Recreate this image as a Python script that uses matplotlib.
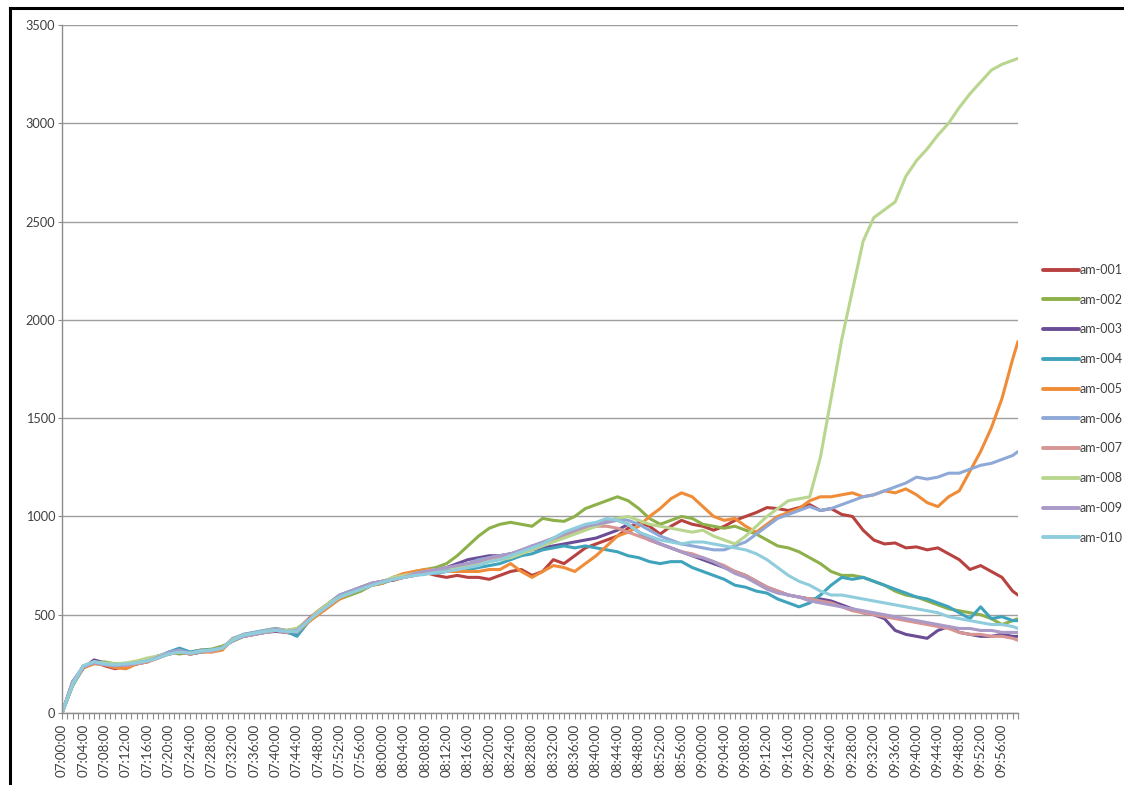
import matplotlib
matplotlib.use("Agg")
import matplotlib.pyplot as plt
from matplotlib.lines import Line2D

plt.rcParams['font.family'] = ['Lato', 'DejaVu Sans']

# minutes after 07:00 (sampled every two minutes, last reading at 09:59)
minutes = list(range(0, 179, 2)) + [179]

am_001 = [0, 160, 230, 265, 240, 225, 240, 250, 265, 290, 300, 320, 300, 310, 315, 325, 375, 395, 405, 410,
          425, 410, 420, 475, 520, 560, 600, 620, 640, 660, 670, 675, 690, 700, 715, 700, 690,
          700, 690, 690, 680, 700, 720, 730, 700, 720, 780, 760, 800, 840, 860, 880, 900, 940, 970, 950, 910,
          950, 980, 960, 950, 930, 950, 980, 1000, 1020, 1045, 1040, 1030, 1045, 1060, 1030, 1040, 1010, 1000,
          930, 880, 860, 865, 840, 845, 830, 840, 810, 780, 730, 750, 720, 690, 620, 600]
am_002 = [0, 140, 240, 255, 260, 250, 250, 260, 275, 280, 310, 300, 310, 320, 325, 340, 365, 390, 400, 420,
          430, 420, 430, 470, 510, 550, 580, 600, 620, 650, 660, 690, 700, 720, 730, 740, 760,
          800, 850, 900, 940, 960, 970, 960, 950, 990, 980, 975, 1000, 1040, 1060, 1080, 1100, 1080, 1040, 990, 960,
          980, 1000, 990, 960, 950, 940, 950, 930, 910, 880, 850, 840, 820, 790, 760, 720, 700, 700, 690, 670,
          650, 620, 600, 590, 570, 550, 530, 520, 510, 500, 480, 450, 470, 480]
am_003 = [0, 150, 230, 270, 255, 240, 240, 250, 260, 290, 300, 310, 300, 310, 320, 330, 370, 390, 400, 410,
          415, 410, 400, 460, 510, 550, 590, 610, 630, 650, 670, 680, 700, 710, 720, 730, 740,
          760, 780, 790, 800, 800, 810, 820, 830, 840, 850, 860, 870, 880, 890, 910, 930, 960, 920, 880, 860,
          840, 820, 800, 780, 760, 740, 720, 700, 670, 640, 620, 600, 590, 580, 580, 570, 550, 530, 510, 500,
          480, 420, 400, 390, 380, 420, 440, 410, 400, 390, 390, 400, 390, 390]
am_004 = [0, 140, 230, 255, 250, 250, 240, 250, 265, 280, 310, 330, 310, 320, 320, 330, 370, 400, 410, 420,
          420, 415, 390, 460, 510, 550, 590, 610, 630, 650, 660, 680, 700, 700, 710, 710, 720,
          720, 730, 740, 750, 760, 780, 800, 810, 830, 840, 850, 840, 850, 840, 830, 820, 800, 790, 770, 760,
          770, 770, 740, 720, 700, 680, 650, 640, 620, 610, 580, 560, 540, 560, 600, 650, 690, 680, 690, 670,
          650, 630, 610, 590, 580, 560, 540, 510, 480, 540, 480, 490, 470, 470]
am_005 = [0, 150, 230, 250, 245, 230, 225, 250, 260, 280, 300, 310, 300, 310, 310, 320, 380, 390, 400, 410,
          420, 420, 410, 460, 500, 540, 580, 610, 640, 650, 660, 690, 710, 720, 730, 730, 720,
          720, 720, 720, 730, 730, 760, 720, 690, 720, 750, 740, 720, 760, 800, 850, 900, 920, 950, 1000, 1040,
          1090, 1120, 1100, 1050, 1000, 980, 990, 950, 920, 960, 1000, 1020, 1040, 1080, 1100, 1100, 1110, 1120, 1100, 1110,
          1130, 1120, 1140, 1110, 1070, 1050, 1100, 1130, 1230, 1330, 1450, 1600, 1800, 1890]
am_006 = [0, 160, 240, 260, 250, 240, 250, 260, 270, 290, 310, 320, 300, 310, 320, 330, 380, 400, 410, 420,
          430, 420, 410, 470, 510, 560, 600, 620, 640, 660, 670, 680, 690, 700, 720, 710, 730,
          750, 760, 780, 790, 800, 810, 820, 850, 860, 880, 900, 920, 940, 960, 980, 990, 980, 960, 930, 900,
          880, 860, 850, 840, 830, 830, 850, 870, 910, 950, 990, 1010, 1030, 1050, 1030, 1040, 1060, 1080, 1100, 1110,
          1130, 1150, 1170, 1200, 1190, 1200, 1220, 1220, 1240, 1260, 1270, 1290, 1310, 1330]
am_007 = [0, 150, 235, 260, 250, 245, 240, 250, 260, 280, 300, 310, 300, 320, 310, 330, 370, 390, 400, 410,
          420, 410, 420, 470, 510, 550, 590, 610, 630, 650, 670, 680, 690, 700, 710, 720, 720,
          730, 740, 760, 780, 790, 800, 820, 840, 860, 880, 900, 920, 940, 950, 950, 940, 920, 900, 880, 860,
          840, 820, 810, 790, 770, 750, 720, 700, 670, 640, 620, 600, 590, 580, 570, 560, 540, 520, 510, 500,
          490, 480, 470, 460, 450, 440, 430, 410, 400, 400, 390, 390, 380, 370]
am_008 = [0, 145, 240, 260, 255, 250, 255, 265, 280, 290, 300, 310, 305, 315, 320, 330, 375, 395, 405, 415,
          425, 420, 430, 470, 520, 560, 590, 610, 630, 650, 670, 690, 700, 710, 720, 730, 740,
          740, 750, 760, 770, 780, 790, 810, 830, 850, 870, 890, 910, 930, 950, 970, 990, 1000, 980, 960, 950,
          940, 930, 920, 930, 900, 880, 860, 900, 950, 1000, 1040, 1080, 1090, 1100, 1300, 1600, 1900, 2150, 2400, 2520,
          2560, 2600, 2730, 2810, 2870, 2940, 3000, 3080, 3150, 3210, 3270, 3300, 3320, 3330]
am_009 = [0, 155, 235, 255, 245, 240, 245, 255, 265, 285, 300, 320, 305, 315, 320, 330, 370, 390, 400, 410,
          425, 415, 420, 470, 510, 550, 590, 610, 640, 660, 670, 680, 690, 710, 720, 730, 740,
          750, 760, 770, 790, 800, 810, 830, 850, 870, 890, 910, 930, 950, 960, 970, 980, 960, 920, 890, 860,
          840, 820, 800, 790, 770, 740, 710, 690, 660, 630, 610, 600, 590, 570, 560, 550, 540, 530, 520, 510,
          500, 490, 480, 470, 460, 450, 440, 430, 430, 420, 420, 410, 410, 410]
am_010 = [0, 150, 240, 260, 250, 245, 250, 255, 265, 280, 300, 310, 305, 315, 320, 330, 370, 395, 405, 415,
          420, 415, 415, 465, 510, 550, 590, 610, 630, 650, 665, 680, 690, 700, 705, 715, 720,
          730, 740, 750, 770, 780, 800, 820, 840, 860, 890, 920, 940, 960, 970, 990, 980, 960, 920, 900, 880,
          870, 860, 870, 870, 860, 850, 840, 830, 810, 780, 740, 700, 670, 650, 620, 600, 600, 590, 580, 570,
          560, 550, 540, 530, 520, 510, 490, 480, 470, 460, 450, 450, 440, 430]

series_names = ["am-001", "am-002", "am-003", "am-004", "am-005",
                "am-006", "am-007", "am-008", "am-009", "am-010"]
series_values = [am_001, am_002, am_003, am_004, am_005,
                 am_006, am_007, am_008, am_009, am_010]
series_colors = ["#B8423F", "#8DB04A", "#6B4D96", "#3FA3BC", "#F08C38",
                 "#8EA9D8", "#D79593", "#B9D68E", "#AA9AC8", "#8FCDDD"]

y_ticks = [0, 500, 1000, 1500, 2000, 2500, 3000, 3500]
label_minutes = list(range(0, 179, 4))
tick_labels = ["%02d:%02d:00" % (7 + m // 60, m % 60) for m in label_minutes]

W, H = 1124, 785
fig = plt.figure(figsize=(W / 100, H / 100), dpi=100)
ax = fig.add_axes([62 / W, 1 - 713 / H, (1018 - 62) / W, (713 - 25) / H])

for name, vals, col in zip(series_names, series_values, series_colors):
    ax.plot(minutes[:len(vals)], vals, color=col, lw=2.2, label=name,
            solid_joinstyle='round', solid_capstyle='round')

ax.set_xlim(0, 179)
ax.set_ylim(0, 3500)
ax.set_yticks(y_ticks)
ax.set_yticklabels([str(v) for v in y_ticks])
ax.yaxis.grid(True, color="#9E9E9E", lw=1.0)
ax.set_axisbelow(True)

ax.set_xticks(label_minutes)
ax.set_xticklabels(tick_labels, rotation=90, fontsize=9.6, color="#404040")
ax.set_xticks(list(range(0, 180)), minor=True)
ax.tick_params(axis='x', which='both', direction='out', length=4, width=0.8,
               color="#8C8C8C", pad=4)
ax.tick_params(axis='y', direction='out', length=3, width=0.8, color="#8C8C8C",
               labelsize=9.2, labelcolor="#404040", pad=2)

for side in ("top", "right"):
    ax.spines[side].set_visible(False)
for side in ("left", "bottom"):
    ax.spines[side].set_color("#8C8C8C")
    ax.spines[side].set_linewidth(1.0)

handles, labels = ax.get_legend_handles_labels()
leg = fig.legend(handles, labels, loc="upper left",
                 bbox_to_anchor=(1038 / W, 1 - 259 / H), frameon=False,
                 fontsize=9.0, handlelength=2.9, handletextpad=0.05,
                 labelspacing=1.42, borderaxespad=0)
for line in leg.get_lines():
    line.set_linewidth(2.8)
for t in leg.get_texts():
    t.set_color("#404040")

# page frame around the chart
fig.add_artist(Line2D([10 / W, 1.0], [1 - 8 / H, 1 - 8 / H], color="black", lw=2.2))
fig.add_artist(Line2D([10 / W, 10 / W], [0, 1 - 8 / H], color="black", lw=2.2))

fig.savefig("out.png", dpi=100)
